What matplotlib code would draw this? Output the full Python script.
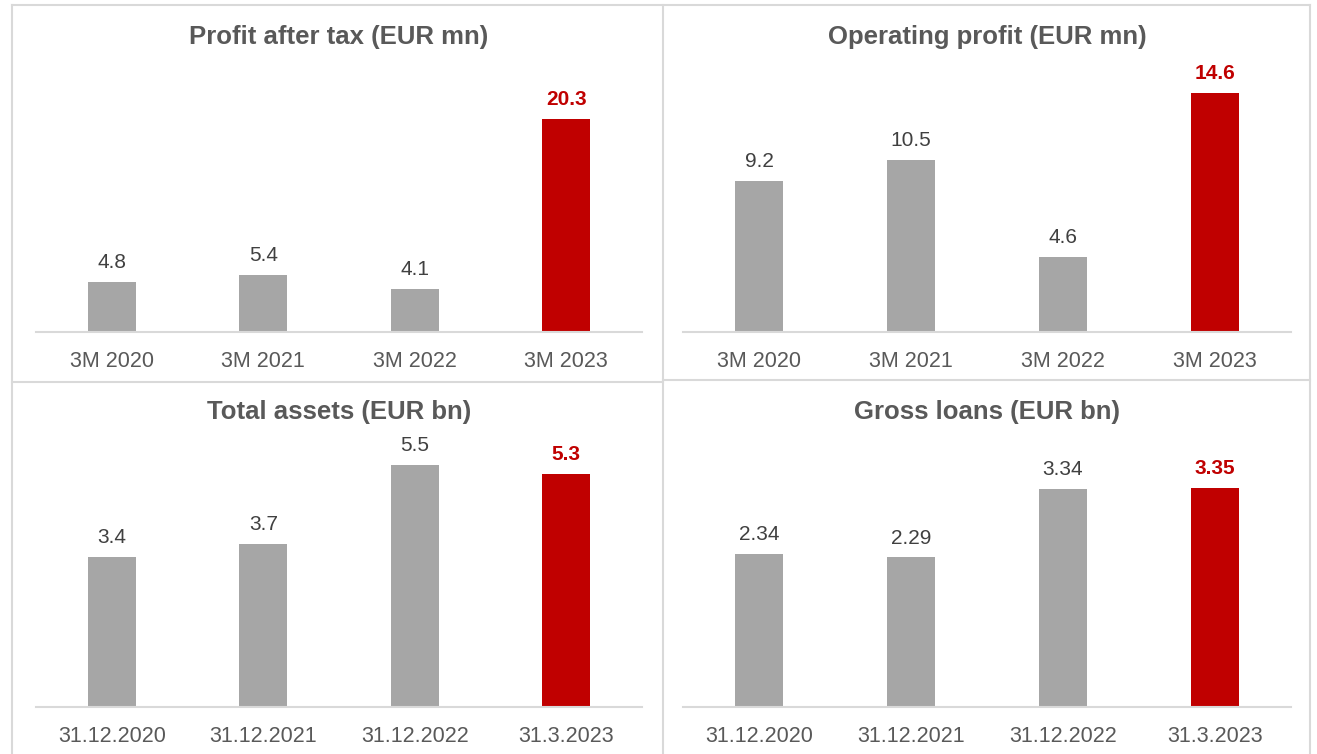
import matplotlib
matplotlib.use("Agg")
import matplotlib.pyplot as plt
from matplotlib.lines import Line2D

plt.rcParams['font.family'] = ['Liberation Sans', 'DejaVu Sans']

# data
quarters = ["3M 2020", "3M 2021", "3M 2022", "3M 2023"]
dates = ["31.12.2020", "31.12.2021", "31.12.2022", "31.3.2023"]
profit_after_tax = [4.8, 5.4, 4.1, 20.3]
operating_profit = [9.2, 10.5, 4.6, 14.6]
total_assets = [3.4, 3.7, 5.5, 5.3]
gross_loans = [2.34, 2.29, 3.34, 3.35]

W, H = 1317, 754
GREY = '#A6A6A6'
RED = '#C00000'
TXT = '#595959'
LINE = '#D9D9D9'

fig = plt.figure(figsize=(W / 100, H / 100), dpi=100)


def px_axes(x0, x1, y_top, y_bot):
    # pixel box -> figure fractions
    return fig.add_axes([x0 / W, 1 - y_bot / H, (x1 - x0) / W, (y_bot - y_top) / H])


def panel(box, title, title_xy, cats, vals, ymax, fmt):
    ax = px_axes(*box)
    colors = [GREY] * (len(vals) - 1) + [RED]
    x = range(len(cats))
    ax.bar(x, vals, width=0.32, color=colors)
    ax.set_xlim(-0.5, len(cats) - 0.5)
    ax.set_ylim(0, ymax)
    for s in ['top', 'right', 'left']:
        ax.spines[s].set_visible(False)
    ax.spines['bottom'].set_color(LINE)
    ax.spines['bottom'].set_linewidth(1.5)
    ax.set_yticks([])
    ax.set_xticks(list(x))
    ax.set_xticklabels(cats, fontsize=15.5, color=TXT)
    ax.tick_params(axis='x', length=0, pad=14)
    for i, v in enumerate(vals):
        last = i == len(vals) - 1
        ax.annotate(fmt.format(v), (i, v), xytext=(0, 14), textcoords='offset points',
                    ha='center', va='center', fontsize=15,
                    color=RED if last else '#404040',
                    fontweight='bold' if last else 'normal', clip_on=False)
    fig.text(title_xy[0] / W, 1 - title_xy[1] / H, title, ha='center', va='center',
             fontsize=18.5, fontweight='bold', color=TXT)
    return ax


panel((36, 642, 90, 332), "Profit after tax (EUR mn)", (339, 37),
      quarters, profit_after_tax, 23.07, "{:.1f}")
panel((683, 1291, 90, 332), "Operating profit (EUR mn)", (987, 37),
      quarters, operating_profit, 14.78, "{:.1f}")
panel((36, 642, 465, 707), "Total assets (EUR bn)", (339, 412),
      dates, total_assets, 5.5, "{:.1f}")
panel((683, 1291, 465, 707), "Gross loans (EUR bn)", (987, 412),
      dates, gross_loans, 3.706, "{:.2f}")

# panel borders
def seg(x0, y0, x1, y1):
    fig.add_artist(Line2D([x0 / W, x1 / W], [1 - y0 / H, 1 - y1 / H],
                          color=LINE, linewidth=1.5, transform=fig.transFigure))

seg(12, 5, 1310, 5)
seg(12, 5, 12, 754)
seg(1310, 5, 1310, 754)
seg(663, 5, 663, 754)
seg(12, 382, 663, 382)
seg(663, 380, 1310, 380)

fig.savefig('out.png', dpi=100)
